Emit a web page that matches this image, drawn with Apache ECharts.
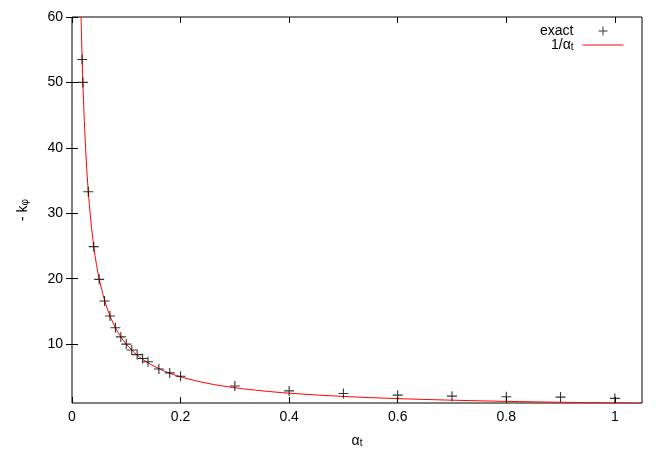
<!DOCTYPE html>
<html>
<head>
<meta charset="utf-8">
<script src="https://cdn.jsdelivr.net/npm/echarts@6/dist/echarts.min.js"></script>
<style>
  html, body { margin: 0; padding: 0; background: #fff; }
  #chart { width: 664px; height: 465px; }
</style>
</head>
<body>
<div id="chart"></div>
<script>
// exact values
let alphaExact = [0.0187, 0.02, 0.03, 0.04, 0.05, 0.06, 0.07, 0.08, 0.09, 0.10, 0.11, 0.12, 0.13, 0.14,
                  0.16, 0.18, 0.20, 0.30, 0.40, 0.50, 0.60, 0.70, 0.80, 0.90, 1.00];
let kExact = [53.5, 50.0, 33.3, 24.9, 19.9, 16.6, 14.3, 12.5, 11.1, 10.0, 9.1, 8.4, 7.8, 7.3,
              6.2, 5.6, 5.1, 3.6, 2.85, 2.45, 2.2, 2.05, 1.95, 1.9, 1.7];

// 1/alpha_t curve, sampled off the red line
let alphaCurve = [0.0167, 0.0175, 0.0185, 0.02, 0.022, 0.025, 0.028, 0.032, 0.036, 0.04, 0.045, 0.05,
                  0.06, 0.07, 0.08, 0.09, 0.10, 0.12, 0.14, 0.17, 0.20, 0.25, 0.30, 0.35, 0.40,
                  0.50, 0.60, 0.70, 0.80, 0.90, 0.96, 1.05];
let kCurve = [60.0, 57.1, 54.1, 50.0, 45.5, 40.0, 35.7, 31.3, 27.8, 25.0, 22.2, 20.0,
              16.7, 14.3, 12.5, 11.1, 10.0, 8.33, 7.14, 5.88, 5.00, 4.00, 3.33, 2.86, 2.50,
              2.00, 1.67, 1.43, 1.25, 1.11, 1.04, 0.95];

// tick labels
let xTicks = [0, 0.2, 0.4, 0.6, 0.8, 1];
let yTicks = [10, 20, 30, 40, 50, 60];

let font = 'Liberation Sans';
let plusPath = 'path://M4.45,0 h1.1 v4.45 h4.45 v1.1 h-4.45 v4.45 h-1.1 v-4.45 h-4.45 v-1.1 h4.45 z';

let chart = echarts.init(document.getElementById('chart'));

let exactData = alphaExact.map(function (a, i) { return [a, kExact[i]]; });
let curveData = alphaCurve.map(function (a, i) { return [a, kCurve[i]]; });

let tickStyle = {show: true, inside: true, length: 6, lineStyle: {color: '#000', width: 1}};
// sub-script rich text styles
let subRich = {
    a: {fontFamily: font, fontSize: 14, color: '#000', lineHeight: 14, padding: [0, 0, 5, 0], verticalAlign: 'top'},
    s: {fontFamily: font, fontSize: 10, color: '#000', lineHeight: 10, verticalAlign: 'bottom'}
};

let option = {
    animation: false,
    backgroundColor: '#fff',
    textStyle: {fontFamily: font},
    grid: {left: 72, right: 22, top: 17, bottom: 62, show: true, borderColor: '#000', borderWidth: 1, backgroundColor: 'transparent'},
    legend: {
        orient: 'vertical', align: 'right', right: 35, top: 19,
        itemWidth: 41, itemHeight: 9, itemGap: 0,
        textStyle: {
            fontFamily: font, fontSize: 14, color: '#000', lineHeight: 14, padding: [0, 4, 0, 0],
            rich: subRich
        },
        formatter: function (name) {
            return name === 'exact' ? 'exact' : '{a|1/α}{s|t}';
        },
        data: [
            {name: 'exact'},
            {name: '1/alpha', itemStyle: {color: 'transparent', borderWidth: 0}, lineStyle: {color: '#ff0000', width: 1}}
        ]
    },
    xAxis: [{
        type: 'value', min: 0, max: 1.05, position: 'bottom',
        name: '{a|α}{s|t}', nameLocation: 'middle', nameGap: 31,
        nameTextStyle: {rich: subRich},
        axisLine: {show: false},
        axisTick: Object.assign({customValues: xTicks}, tickStyle),
        axisLabel: {customValues: xTicks, color: '#000', fontSize: 14, fontFamily: font, margin: 7},
        splitLine: {show: false}
    }, {
        type: 'value', min: 0, max: 1.05, position: 'top',
        axisLine: {show: false},
        axisTick: Object.assign({customValues: xTicks}, tickStyle),
        axisLabel: {show: false},
        splitLine: {show: false}
    }],
    yAxis: [{
        type: 'value', min: 1, max: 60, position: 'left',
        name: '{a|- k}{s|φ}', nameLocation: 'middle', nameGap: 42,
        nameTextStyle: {rich: subRich},
        axisLine: {show: false},
        axisTick: Object.assign({customValues: yTicks}, tickStyle),
        axisLabel: {customValues: yTicks, color: '#000', fontSize: 14, fontFamily: font, margin: 9},
        splitLine: {show: false}
    }, {
        type: 'value', min: 1, max: 60, position: 'right',
        axisLine: {show: false},
        axisTick: Object.assign({customValues: yTicks}, tickStyle),
        axisLabel: {show: false},
        splitLine: {show: false}
    }],
    series: [{
        name: 'exact', type: 'scatter',
        symbol: plusPath, symbolSize: 10,
        itemStyle: {color: '#000'},
        data: exactData, z: 3
    }, {
        name: '1/alpha', type: 'line',
        symbol: 'none', smooth: 0.3, clip: true,
        lineStyle: {color: '#ff0000', width: 1},
        itemStyle: {color: '#ff0000'},
        data: curveData, z: 2
    }]
};

chart.setOption(option);
</script>
</body>
</html>
